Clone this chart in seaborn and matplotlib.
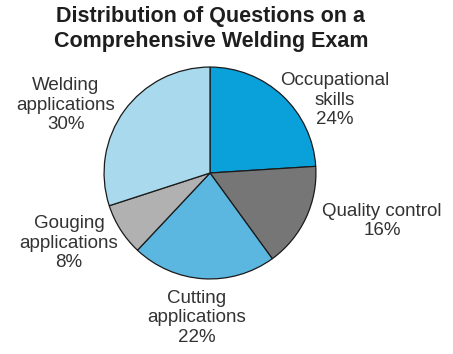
import matplotlib
matplotlib.use("Agg")
import matplotlib.pyplot as plt
import seaborn as sns

categories = ["Occupational\nskills", "Quality control", "Cutting\napplications",
              "Gouging\napplications", "Welding\napplications"]
values = [24, 16, 22, 8, 30]
colors = ["#0AA0DA", "#767676", "#5BB7E0", "#B1B1B1", "#A9D9EC"]

# label anchor positions (pixels from top-left of the figure)
label_pos = [(335, 100), (382, 221), (197, 318), (69, 243), (66, 105)]

sns.set_theme(style="white")
plt.rcParams["font.family"] = ["Liberation Sans", "DejaVu Sans"]

W, H = 453, 354
fig = plt.figure(figsize=(W / 100, H / 100), dpi=100)
cx, cy, r = 210, 173, 107
ax = fig.add_axes([(cx - r) / W, (H - cy - r) / H, 2 * r / W, 2 * r / H])
ax.pie(values, colors=colors, startangle=90, counterclock=False, radius=1,
       wedgeprops=dict(edgecolor="#1a1a1a", linewidth=0.9))
ax.set_xlim(-1.01, 1.01)
ax.set_ylim(-1.01, 1.01)
ax.set_aspect("equal")
ax.axis("off")

for lab, v, (x, y) in zip(categories, values, label_pos):
    fig.text(x / W, 1 - y / H, f"{lab}\n{v}%", ha="center", va="center",
             fontsize=13.5, color="#333333", linespacing=1.18)

fig.text(211 / W, 1 - 29 / H, "Distribution of Questions on a\nComprehensive Welding Exam",
         ha="center", va="center", fontsize=15.5, fontweight="bold", color="#1e1e1e",
         linespacing=1.2)

fig.savefig("out.png", dpi=100, facecolor="white")
